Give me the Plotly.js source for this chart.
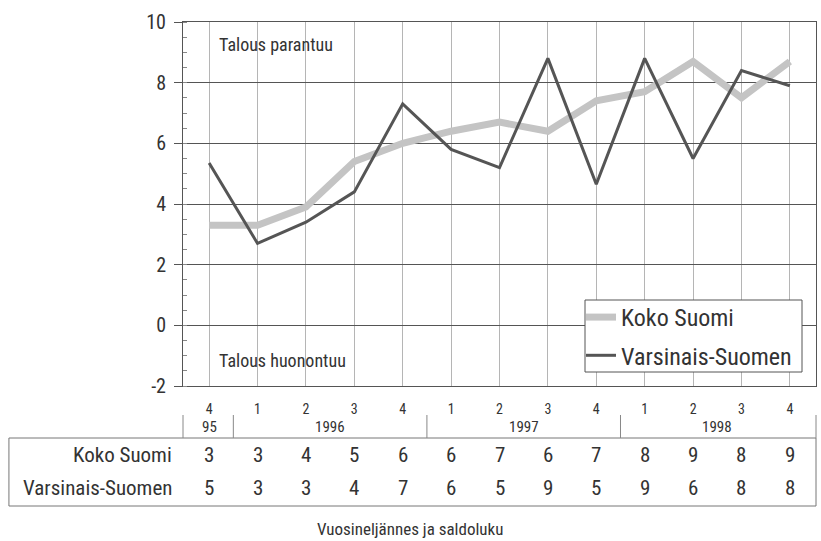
<!DOCTYPE html>
<html>
<head>
<meta charset="utf-8">
<script src="https://cdn.plot.ly/plotly-3.0.1.min.js"></script>
<style>html,body{margin:0;padding:0;background:#fff;}#chart{width:821px;height:541px;}</style>
</head>
<body>
<div id="chart"></div>
<script>
var quarterLabels = ["4","1","2","3","4","1","2","3","4","1","2","3","4"];
var yearLabels = ["95","1996","1997","1998"];
var yearCenters = [0, 2.5, 6.5, 10.5];
var yearSeparators = [0.5, 4.5, 8.5];
var yTickVals = [-2, 0, 2, 4, 6, 8, 10];
var yTickText = ["-2", "0", "2", "4", "6", "8", "10"];
var kokoSuomi = [3.3, 3.3, 3.9, 5.4, 6.0, 6.4, 6.7, 6.4, 7.4, 7.7, 8.7, 7.5, 8.7];
var varsinais = [5.35, 2.7, 3.4, 4.4, 7.3, 5.8, 5.2, 8.8, 4.65, 8.8, 5.5, 8.4, 7.9];
var kokoTable = [3, 3, 4, 5, 6, 6, 7, 6, 7, 8, 9, 8, 9];
var varsTable = [5, 3, 3, 4, 7, 6, 5, 9, 5, 9, 6, 8, 8];
var seriesNames = ["Koko Suomi", "Varsinais-Suomen"];

var FONT = "'Liberation Sans Narrow', 'Roboto Condensed', 'Arial Narrow', 'DejaVu Sans Condensed', sans-serif";
var TXT = "#333";
var xs = quarterLabels.map(function(_, i){ return i; });

var traces = [
  {x: xs, y: kokoSuomi, name: seriesNames[0], mode: "lines", legendgroup: "a",
   line: {color: "#c4c4c4", width: 7}},
  {x: xs, y: varsinais, name: seriesNames[1], mode: "lines", legendgroup: "b",
   line: {color: "#555555", width: 3}}
];

var annotations = [
  {xref: "paper", yref: "y", x: 0.053, y: 9.25, xanchor: "left", yanchor: "middle",
   text: "Talous parantuu", showarrow: false, font: {family: FONT, size: 18, color: TXT}},
  {xref: "paper", yref: "y", x: 0.053, y: -1.15, xanchor: "left", yanchor: "middle",
   text: "Talous huonontuu", showarrow: false, font: {family: FONT, size: 18, color: TXT}},
  {xref: "paper", yref: "paper", x: -0.0142, y: -0.1896, xanchor: "right", yanchor: "middle",
   text: seriesNames[0], showarrow: false, font: {family: FONT, size: 21, color: TXT}},
  {xref: "paper", yref: "paper", x: -0.0142, y: -0.2802, xanchor: "right", yanchor: "middle",
   text: seriesNames[1], showarrow: false, font: {family: FONT, size: 21, color: TXT}},
  {xref: "paper", yref: "paper", x: 0.3586, y: -0.392, xanchor: "center", yanchor: "middle",
   text: "Vuosineljännes ja saldoluku", showarrow: false, font: {family: FONT, size: 17, color: TXT}}
];
yearLabels.forEach(function(t, i){
  annotations.push({xref: "x", yref: "paper", x: yearCenters[i], y: -0.1126, xanchor: "center", yanchor: "middle",
    text: t, showarrow: false, font: {family: FONT, size: 15, color: TXT}});
});
kokoTable.forEach(function(v, i){
  annotations.push({xref: "x", yref: "paper", x: i, y: -0.1896, xanchor: "center", yanchor: "middle",
    text: String(v), showarrow: false, font: {family: FONT, size: 21, color: TXT}});
});
varsTable.forEach(function(v, i){
  annotations.push({xref: "x", yref: "paper", x: i, y: -0.2802, xanchor: "center", yanchor: "middle",
    text: String(v), showarrow: false, font: {family: FONT, size: 21, color: TXT}});
});

var shapes = [
  {type: "rect", xref: "paper", yref: "paper", x0: -0.275, x1: 1.0, y0: -0.1429, y1: -0.3297,
   line: {color: "#777", width: 1}},
  {type: "line", xref: "paper", yref: "paper", x0: 0, x1: 0, y0: -0.0797, y1: -0.1429, line: {color: "#888", width: 1}},
  {type: "line", xref: "paper", yref: "paper", x0: 1, x1: 1, y0: -0.0797, y1: -0.1429, line: {color: "#888", width: 1}},
  /* legend frame */
  {type: "rect", xref: "paper", yref: "paper", layer: "above",
   x0: (585 - 183) / 633, x1: (802 - 183) / 633, y0: (386 - 300) / 364, y1: (386 - 372) / 364,
   fillcolor: "#fff", line: {color: "#555", width: 1}}
];
yearSeparators.forEach(function(s){
  shapes.push({type: "line", xref: "x", yref: "paper", x0: s, x1: s, y0: -0.0797, y1: -0.1429,
    line: {color: "#888", width: 1}});
});

var layout = {
  width: 821, height: 541,
  margin: {l: 183, r: 5, t: 22, b: 155, pad: 0},
  paper_bgcolor: "#fff", plot_bgcolor: "#fff",
  font: {family: FONT, color: TXT},
  showlegend: true,
  legend: {x: (581 - 183) / 633, y: (386 - 295) / 364, xanchor: "left", yanchor: "top",
    borderwidth: 0, bgcolor: "rgba(0,0,0,0)",
    font: {family: FONT, size: 24, color: TXT}, itemwidth: 30, tracegroupgap: 4},
  xaxis: {range: [-0.54, 12.54], tickmode: "array", tickvals: xs, ticktext: quarterLabels,
    showgrid: true, gridcolor: "#b5b5b5", gridwidth: 1, zeroline: false,
    showline: true, linecolor: "#555", linewidth: 1, mirror: true,
    ticks: "", tickfont: {family: FONT, size: 14, color: TXT}, ticklabelstandoff: 10,
    fixedrange: true},
  yaxis: {range: [-2, 10], tickmode: "array", tickvals: yTickVals, ticktext: yTickText,
    showgrid: true, gridcolor: "#555", gridwidth: 1, zeroline: false,
    showline: true, linecolor: "#555", linewidth: 1, mirror: true,
    ticks: "outside", ticklen: 8, tickcolor: "#555",
    minor: {dtick: 0.5, ticks: "inside", ticklen: 4, tickcolor: "#888", showgrid: false},
    tickfont: {family: FONT, size: 20, color: TXT}, ticklabelstandoff: 4,
    fixedrange: true},
  annotations: annotations,
  shapes: shapes
};

Plotly.newPlot("chart", traces, layout, {displayModeBar: false, staticPlot: true});
</script>
</body>
</html>
